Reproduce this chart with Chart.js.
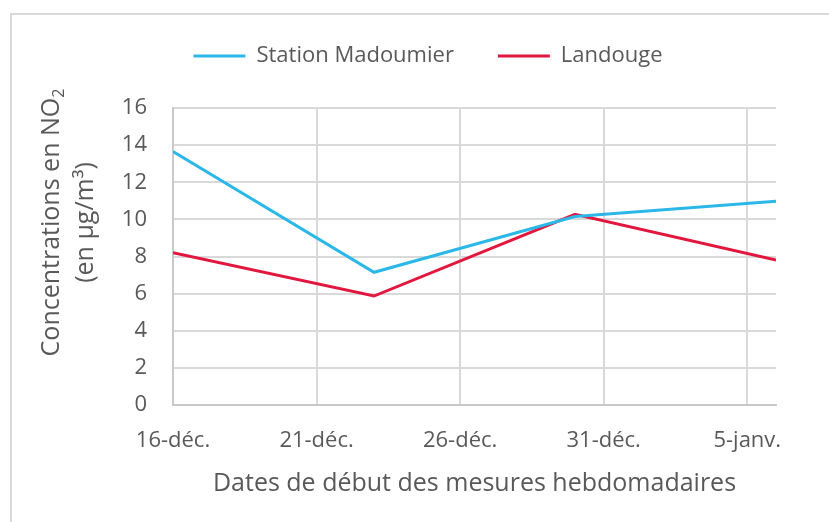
<!DOCTYPE html>
<html><head><meta charset="utf-8">
<script src="https://cdn.jsdelivr.net/npm/chart.js@4.4.1/dist/chart.umd.min.js"></script>
<style>
html,body{margin:0;padding:0;background:#fff;overflow:hidden;}
#wrap{position:relative;width:829px;height:522px;overflow:hidden;}
#frame{position:absolute;left:10px;top:13px;width:1000px;height:1000px;border:2px solid #d9d9d9;box-sizing:border-box;}
canvas{position:absolute;left:0;top:0;}
</style></head><body>
<div id="wrap"><div id="frame"></div><canvas id="c" width="829" height="522"></canvas></div>
<script>
// Data (x = days since 16-déc.)
const seriesNames = ['Station Madoumier', 'Landouge'];
const dayOffsets = [0, 7, 14, 21];
const madoumier = [13.65, 7.15, 10.15, 10.97];
const landouge = [8.2, 5.87, 10.27, 7.81];
const tickDays = [0, 5, 10, 15, 20];
const tickLabels = ['16-déc.', '21-déc.', '26-déc.', '31-déc.', '5-janv.'];
const yTitleMain = 'Concentrations en NO';
const yTitleSub = '2';
const yTitleLine2 = '(en µg/m³)';
const xTitle = 'Dates de début des mesures hebdomadaires';

const FONT = "'Open Sans', 'Noto Sans', sans-serif";
const TXT = '#595959';
Chart.defaults.font.family = FONT;
Chart.defaults.color = TXT;

const yTitlePlugin = {
  id: 'yTitle',
  afterDraw(chart) {
    const ctx = chart.ctx;
    const a = chart.chartArea;
    const cy = (a.top + a.bottom) / 2 - 34;
    ctx.save();
    ctx.fillStyle = TXT;
    ctx.textBaseline = 'middle';
    ctx.textAlign = 'left';
    ctx.font = '25px ' + FONT;
    const w1 = ctx.measureText(yTitleMain).width;
    ctx.font = '16px ' + FONT;
    const w2 = ctx.measureText(yTitleSub).width;
    const W = w1 + w2;
    ctx.translate(52, cy);
    ctx.rotate(-Math.PI / 2);
    ctx.font = '25px ' + FONT;
    ctx.fillText(yTitleMain, -W / 2, 0);
    ctx.font = '16px ' + FONT;
    ctx.fillText(yTitleSub, -W / 2 + w1, 7);
    ctx.restore();
    ctx.save();
    ctx.fillStyle = TXT;
    ctx.textBaseline = 'middle';
    ctx.textAlign = 'center';
    ctx.font = '25px ' + FONT;
    ctx.translate(86, cy);
    ctx.rotate(-Math.PI / 2);
    ctx.fillText(yTitleLine2, 0, 0);
    ctx.restore();
  }
};

const toPts = arr => dayOffsets.map((d, i) => ({ x: d, y: arr[i] }));

new Chart(document.getElementById('c'), {
  type: 'line',
  data: {
    datasets: [
      { label: seriesNames[0], data: toPts(madoumier), borderColor: '#2BB7E8', backgroundColor: '#2BB7E8', borderWidth: 3, pointRadius: 0, tension: 0 },
      { label: seriesNames[1], data: toPts(landouge), borderColor: '#E2173E', backgroundColor: '#E2173E', borderWidth: 3, pointRadius: 0, tension: 0 }
    ]
  },
  options: {
    responsive: false,
    animation: false,
    devicePixelRatio: 1,
    layout: { padding: { left: 80, right: 53, top: 1, bottom: 0 } },
    plugins: {
      legend: {
        position: 'top',
        labels: { usePointStyle: true, pointStyle: 'line', pointStyleWidth: 52, boxHeight: 22, padding: 44, color: TXT, font: { size: 22 } }
      },
      // empty spacer between legend and plot area
      title: { display: true, text: '', position: 'top', weight: 500, font: { size: 20, lineHeight: 1.2 }, padding: { top: 0, bottom: 7 } },
      tooltip: { enabled: false }
    },
    scales: {
      x: {
        type: 'linear', min: 0, max: 21,
        afterBuildTicks(s) { s.ticks = tickDays.map(v => ({ value: v })); },
        afterFit(s) { s.height = 117; },
        ticks: { callback: v => tickLabels[tickDays.indexOf(v)], color: TXT, font: { size: 22 }, padding: 23, maxRotation: 0, autoSkip: false },
        grid: { color: '#d9d9d9', lineWidth: 2, drawTicks: false },
        border: { color: '#c9c9c9', width: 2 },
        title: { display: true, text: xTitle, color: TXT, font: { size: 25 }, padding: { top: 0, bottom: 23 } }
      },
      y: {
        min: 0, max: 16,
        afterFit(s) { s.width = 93; },
        ticks: { stepSize: 2, color: TXT, font: { size: 22 }, padding: 26 },
        grid: { color: '#d9d9d9', lineWidth: 2, drawTicks: false },
        border: { color: '#c9c9c9', width: 2 }
      }
    }
  },
  plugins: [yTitlePlugin]
});
</script>
</body></html>
